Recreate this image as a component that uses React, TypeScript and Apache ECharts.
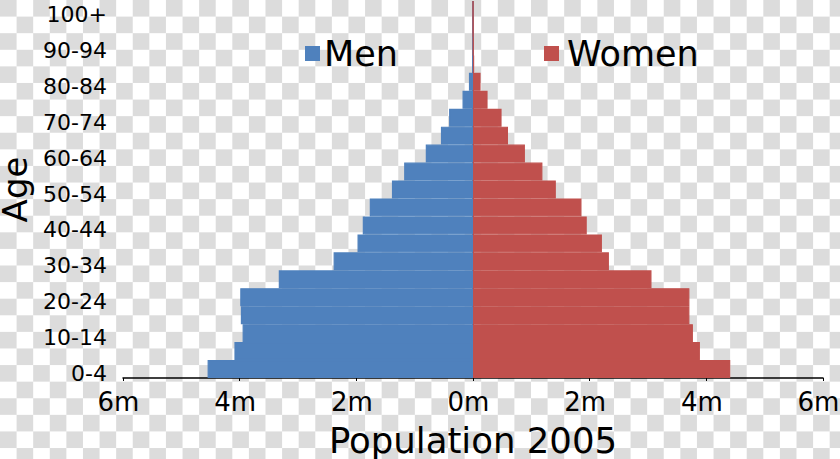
import React, { useEffect, useRef } from "react";
import * as echarts from "echarts";

const ageGroups = [
  "0-4", "5-9", "10-14", "15-19", "20-24", "25-29", "30-34", "35-39", "40-44", "45-49",
  "50-54", "55-59", "60-64", "65-69", "70-74", "75-79", "80-84", "85-89", "90-94", "95-99", "100+",
];

// population in millions
const men = [
  4.55, 4.09, 3.95, 3.98, 3.99, 3.33, 2.39, 1.98, 1.89, 1.77,
  1.39, 1.18, 0.81, 0.55, 0.41, 0.18, 0.07, 0.01, 0.005, 0.002, 0.001,
];
const women = [
  4.41, 3.89, 3.77, 3.71, 3.71, 3.06, 2.33, 2.21, 1.95, 1.86,
  1.42, 1.19, 0.89, 0.6, 0.49, 0.25, 0.13, 0.02, 0.01, 0.005, 0.002,
];

const xTicks = { min: -6, max: 6, interval: 2 };

const MEN_COLOR = "#4f81bd";
const WOMEN_COLOR = "#c0504d";

export default function App() {
  const ref = useRef<HTMLDivElement>(null);

  useEffect(() => {
    if (!ref.current) return;
    const chart = echarts.init(ref.current, null, { renderer: "svg" });
    chart.setOption({
      animation: false,
      textStyle: { fontFamily: "DejaVu Sans", color: "#000" },
      legend: [
        {
          data: ["Men"],
          left: 305,
          top: 36,
          padding: 0,
          icon: "rect",
          itemWidth: 13,
          itemHeight: 13,
          selectedMode: false,
          textStyle: { fontSize: 35, color: "#000", fontFamily: "DejaVu Sans" },
        },
        {
          data: ["Women"],
          left: 544,
          top: 36,
          padding: 0,
          icon: "rect",
          itemWidth: 13,
          itemHeight: 13,
          selectedMode: false,
          textStyle: { fontSize: 35, color: "#000", fontFamily: "DejaVu Sans", padding: [0, 0, 0, 4] },
        },
      ],
      grid: { left: 123, right: 17, top: 1, bottom: 81, containLabel: false, outerBoundsMode: "none" },
      xAxis: {
        type: "value",
        min: xTicks.min,
        max: xTicks.max,
        interval: xTicks.interval,
        name: "Population 2005",
        nameLocation: "middle",
        nameGap: 44,
        nameTextStyle: { fontSize: 35.5, color: "#000", fontFamily: "DejaVu Sans" },
        axisLine: { show: true, lineStyle: { color: "#000", width: 1.5 } },
        axisTick: { show: true, length: 3, lineStyle: { color: "#000", width: 1 } },
        axisLabel: {
          formatter: (v: number) => Math.abs(v) + "m",
          fontSize: 26,
          color: "#000",
          margin: 11,
          padding: [0, 9, 0, 0],
          fontFamily: "DejaVu Sans",
        },
        splitLine: {
          show: true,
          lineStyle: {
            width: 2,
            color: ["transparent", "transparent", "transparent", WOMEN_COLOR, "transparent", "transparent", "transparent"],
          },
        },
      },
      yAxis: {
        type: "category",
        data: ageGroups,
        position: "left",
        name: "Age",
        nameLocation: "middle",
        nameRotate: 90,
        nameGap: 94,
        nameTextStyle: { fontSize: 34, lineHeight: 28, color: "#000", fontFamily: "DejaVu Sans" },
        axisLine: { show: false },
        axisTick: { show: false },
        splitLine: { show: false },
        axisLabel: {
          interval: 1,
          fontSize: 22,
          color: "#000",
          margin: 16,
          verticalAlign: "top",
          lineHeight: 9,
          fontFamily: "DejaVu Sans",
        },
      },
      series: [
        {
          name: "Men",
          type: "bar",
          stack: "pop",
          data: men.map((v) => -v),
          itemStyle: { color: MEN_COLOR, borderColor: MEN_COLOR, borderWidth: 1.2 },
          barCategoryGap: "0%",
        },
        {
          name: "Women",
          type: "bar",
          stack: "pop",
          data: women,
          itemStyle: { color: WOMEN_COLOR, borderColor: WOMEN_COLOR, borderWidth: 1.2 },
          barCategoryGap: "0%",
        },
      ],
    });
    return () => chart.dispose();
  }, []);

  return (
    <div
      ref={ref}
      style={{
        position: "fixed",
        left: 0,
        top: 0,
        width: 840,
        height: 459,
        backgroundColor: "#fff",
        backgroundImage:
          "conic-gradient(#fff 0 25%, #dcdcdc 0 50%, #fff 0 75%, #dcdcdc 0)",
        backgroundSize: "33.2px 33.2px",
      }}
    />
  );
}
